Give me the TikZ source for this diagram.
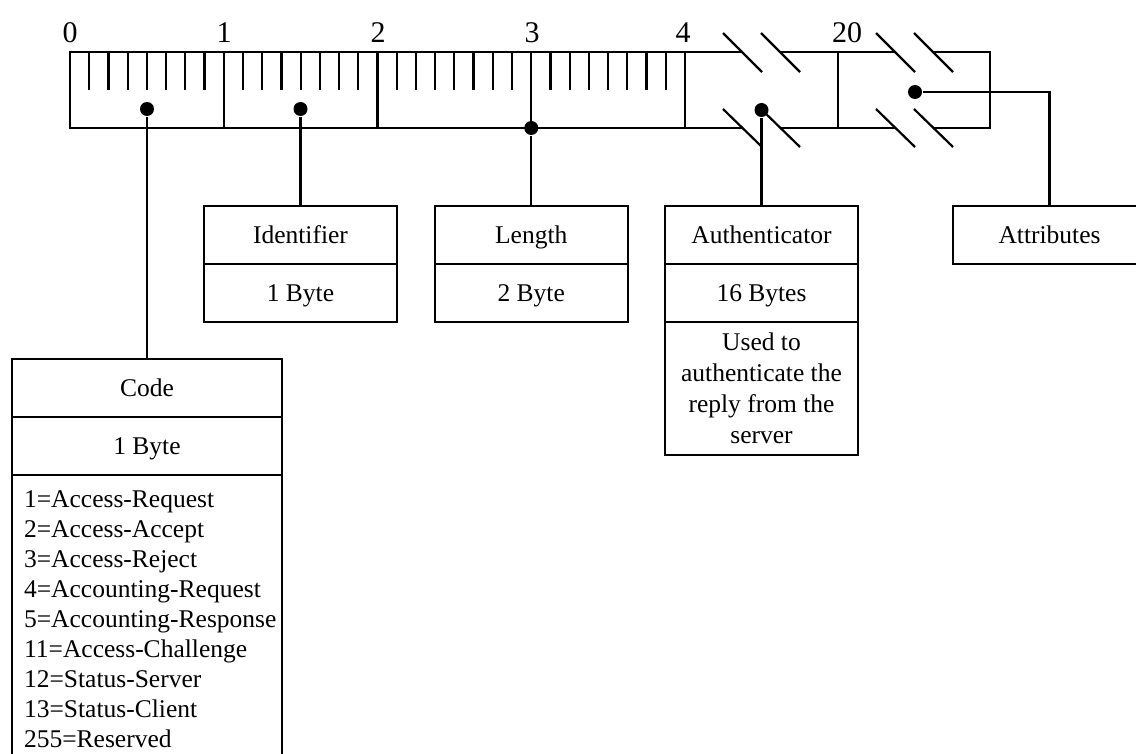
\documentclass[tikz,border=0pt]{standalone}
\usepackage{fontspec}
\setmainfont{Liberation Serif}
\begin{document}
\begin{tikzpicture}[x=1pt,y=-1pt,
  line width=2.2pt,
  cell/.style={draw, line width=2.2pt, minimum width=193pt, minimum height=58pt,
    inner sep=0pt, text height=17pt, text depth=0pt,
    font=\fontsize{25.5}{30}\selectfont},
  tall/.style={draw, line width=2.2pt, minimum width=193pt, inner sep=0pt,
    align=center, font=\fontsize{25.5}{31}\selectfont},
  listline/.style={anchor=base west, inner sep=0pt, font=\fontsize{25.5}{30}\selectfont},
  dot/.style={circle, fill, draw=none, inner sep=0pt, minimum size=14pt},
  num/.style={anchor=base, inner sep=0pt, font=\fontsize{30}{36}\selectfont},
  wire/.style={line width=2.2pt}]
\useasboundingbox (0,0) rectangle (1136,754);
\clip (0,0) rectangle (1136,754);

% byte ruler: 4 fixed bytes with bit ticks
\def\bw{153.75}
\foreach \b in {0,...,3}
  \foreach \k in {1,...,7}
    \draw ({70+\b*\bw+\k*\bw/8},52) -- ++(0,38);
\foreach \b in {1,2,3}
  \draw ({70+\b*\bw},52) -- ++(0,76);

% outline with breaks for the variable-length fields
\draw (742,52) -- (70,52) -- (70,128) -- (742,128);
\draw (780,52) -- (895,52);
\draw (780,128) -- (895,128);
\draw (933,52) -- (990,52) -- (990,128) -- (933,128);
\draw (685,52) -- (685,128);
\draw (838,52) -- (838,128);
\foreach \x in {723,761,876,914} {
  \draw (\x,33) -- ++(39,39);
  \draw (\x,109) -- ++(39,38);
}

% byte offsets
\node[num] (n0) at (70,43) {0};
\node[num] (n1) at (224,43) {1};
\node[num] (n2) at (378,43) {2};
\node[num] (n3) at (532,43) {3};
\node[num] (n4) at (683,43) {4};
\node[num] (n20) at (847,43) {20};

% field markers
\node[dot] (dcode) at (147,109) {};
\node[dot] (dident) at (300.5,109) {};
\node[dot] (dlen) at (531.25,128) {};
\node[dot] (dauth) at (761.5,110) {};
\node[dot] (dattr) at (915,92) {};

% field descriptions
\node[cell] (ident1) at (300.5,235) {Identifier};
\node[cell] (ident2) at (300.5,293) {1 Byte};
\node[cell] (len1) at (531.25,235) {Length};
\node[cell] (len2) at (531.25,293) {2 Byte};
\node[cell] (auth1) at (761.5,235) {Authenticator};
\node[cell] (auth2) at (761.5,293) {16 Bytes};
\node[tall, minimum height=133pt] (auth3) at (761.5,388.5)
  {Used to\\authenticate the\\reply from the\\server};
\node[cell] (attr) at (1049.5,235) {Attributes};

\node[cell, minimum width=270pt] (code1) at (147,388) {Code};
\node[cell, minimum width=270pt] (code2) at (147,446) {1 Byte};
\node[draw, line width=2.2pt, minimum width=270pt, minimum height=325pt, inner sep=0pt]
  (code3) at (147,637.5) {};
\foreach \t [count=\i] in {1=Access-Request, 2=Access-Accept, 3=Access-Reject,
    4=Accounting-Request, 5=Accounting-Response, 11=Access-Challenge,
    12=Status-Server, 13=Status-Client, 255=Reserved}
  \node[listline] (cl\i) at (23,{477+\i*30}) {\t};

% connectors
\draw[wire] (dcode) -- (code1.north);
\draw[wire] (dident) -- (ident1.north);
\draw[wire] (dlen) -- (len1.north);
\draw[wire] (dauth) -- (auth1.north);
\draw[wire] (dattr) -| (attr.north);
\end{tikzpicture}
\end{document}
